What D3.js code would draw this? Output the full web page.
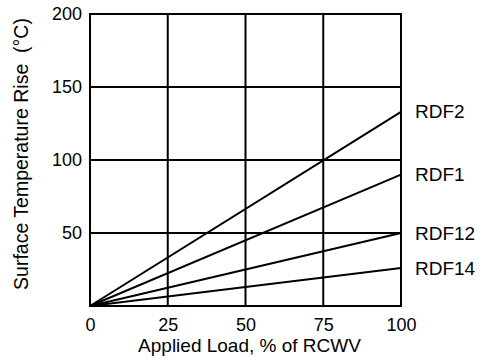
<!DOCTYPE html>
<html><head><meta charset="utf-8">
<script src="https://cdn.jsdelivr.net/npm/d3@7"></script>
<style>body{margin:0;background:#fff}text{font-family:"Liberation Sans",Arial,sans-serif;fill:#000;white-space:pre}</style>
</head><body><svg id="c" width="483" height="358"></svg>
<script>
const loads = [0, 100];
const rdf2 = [0, 133];
const rdf1 = [0, 90];
const rdf12 = [0, 50];
const rdf14 = [0, 26];
const seriesNames = ["RDF2", "RDF1", "RDF12", "RDF14"];
const xTicks = [0, 25, 50, 75, 100];
const yTicks = [50, 100, 150, 200];
const yGrid = [50, 100, 150, 200];

const series = [rdf2, rdf1, rdf12, rdf14];
const svg = d3.select("#c");
const L = 90, R = 401, T = 14, B = 306;
const x = d3.scaleLinear().domain([0, 100]).range([L, R]);
const y = d3.scaleLinear().domain([0, 200]).range([B, T]);
const g = svg.append("g");

// grid
g.selectAll(".vg").data(xTicks).join("line")
  .attr("x1", d => x(d)).attr("x2", d => x(d)).attr("y1", T).attr("y2", B)
  .attr("stroke", "#000").attr("stroke-width", 2);
g.selectAll(".hg").data(yGrid).join("line")
  .attr("x1", L).attr("x2", R).attr("y1", d => y(d)).attr("y2", d => y(d))
  .attr("stroke", "#000").attr("stroke-width", 2);
g.append("rect").attr("x", L).attr("y", T).attr("width", R - L).attr("height", B - T)
  .attr("fill", "none").attr("stroke", "#000").attr("stroke-width", 2);

// axes
const xa = svg.append("g").attr("transform", `translate(0,${B})`)
  .call(d3.axisBottom(x).tickValues(xTicks).tickSize(0).tickPadding(12));
const ya = svg.append("g").attr("transform", `translate(${L},0)`)
  .call(d3.axisLeft(y).tickValues(yTicks).tickSize(0).tickPadding(8));
[xa, ya].forEach(a => {
  a.select(".domain").remove();
  a.selectAll("text").attr("font-size", 18).attr("font-family", '"Liberation Sans",Arial,sans-serif').attr("fill", "#000");
});

// lines
const line = d3.line().x((d, i) => x(loads[i])).y(d => y(d));
svg.selectAll(".s").data(series).join("path")
  .attr("d", d => line(d)).attr("fill", "none").attr("stroke", "#000").attr("stroke-width", 2);

// series labels
svg.selectAll(".lab").data(series).join("text")
  .attr("x", x(100) + 14).attr("y", d => y(d[1])).attr("dy", "0.35em")
  .attr("font-size", 19).text((d, i) => seriesNames[i]);

// titles
svg.append("text").attr("x", 249.5).attr("y", 352).attr("text-anchor", "middle")
  .attr("font-size", 19).text("Applied Load, % of RCWV");
svg.append("text").attr("transform", `translate(28,154) rotate(-90)`)
  .attr("text-anchor", "middle").attr("font-size", 19.5).text("Surface Temperature Rise  (\u00B0C)");
</script></body></html>
